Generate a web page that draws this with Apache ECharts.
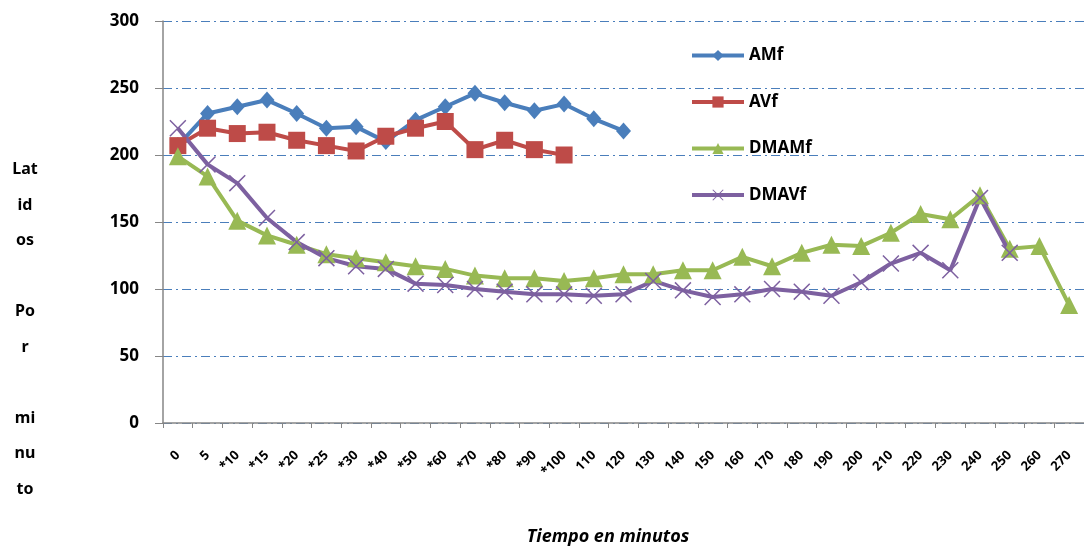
<!DOCTYPE html>
<html>
<head>
<meta charset="utf-8">
<script src="https://cdn.jsdelivr.net/npm/echarts@6/dist/echarts.min.js"></script>
<style>
  html, body { margin: 0; padding: 0; background: #fff; }
  #chart { width: 1084px; height: 550px; }
</style>
</head>
<body>
<div id="chart"></div>
<script>
// Time points (minutes); entries marked * are the sampled intervals
const categories = ['0','5','*10','*15','*20','*25','*30','*40','*50','*60','*70','*80','*90','*100',
  '110','120','130','140','150','160','170','180','190','200','210','220','230','240','250','260','270'];

const amf   = [207, 231, 236, 241, 231, 220, 221, 210, 226, 236, 246, 239, 233, 238, 227, 218];
const avf   = [207, 220, 216, 217, 211, 207, 203, 214, 220, 225, 204, 211, 204, 200];
const dmamf = [199, 184, 151, 140, 133, 126, 123, 120, 117, 115, 110, 108, 108, 106, 108, 111,
  111, 114, 114, 124, 117, 127, 133, 132, 142, 156, 152, 170, 130, 132, 88];
const dmavf = [220, 193, 179, 153, 135, 123, 117, 115, 104, 103, 100, 98, 96, 96, 95, 96,
  106, 99, 94, 96, 100, 98, 95, 105, 119, 127, 114, 168, 127];

const yTicks = { min: 0, max: 300, step: 50 };
const seriesNames = ['AMf', 'AVf', 'DMAMf', 'DMAVf'];
const colors = ['#4A7EBB', '#BE4B48', '#98B954', '#7D60A0'];
const yTitle = 'Lat\nid\nos\n\nPo\nr\n\nmi\nnu\nto';
const xTitle = 'Tiempo en minutos';

const FONT = 'Noto Sans';
const crossPath = 'path://M0,1 L1,0 L8,7 L15,0 L16,1 L9,8 L16,15 L15,16 L8,9 L1,16 L0,15 L7,8 Z';

function lineSeries(name, data, color, symbol, size) {
  return {
    name, type: 'line', data,
    symbol, symbolSize: size,
    showAllSymbol: true,
    lineStyle: { color, width: 4 },
    itemStyle: { color, borderWidth: 0 },
    emphasis: { disabled: true },
    animation: false,
    z: 3
  };
}

const chart = echarts.init(document.getElementById('chart'), null, { renderer: 'canvas' });
chart.setOption({
  backgroundColor: '#ffffff',
  animation: false,
  color: colors,
  grid: { left: 163, right: 0, top: 21, bottom: 127, containLabel: false },
  legend: {
    orient: 'vertical',
    left: 685, top: 42,
    itemWidth: 52, itemHeight: 14, itemGap: 29.5,
    lineStyle: { width: 4 },
    textStyle: { fontFamily: FONT, fontWeight: 'bold', fontSize: 17, color: '#000' },
    data: seriesNames
  },
  xAxis: {
    type: 'category',
    data: categories,
    boundaryGap: true,
    axisLine: { lineStyle: { color: '#868686', width: 1.5 } },
    axisTick: { show: true, length: 5, inside: false, alignWithLabel: false, lineStyle: { color: '#868686' } },
    axisLabel: {
      interval: 0, rotate: 45, margin: 30,
      fontFamily: FONT, fontWeight: 'bold', fontSize: 13, color: '#000'
    },
    splitLine: { show: false }
  },
  yAxis: {
    type: 'value',
    min: yTicks.min, max: yTicks.max, interval: yTicks.step,
    axisLine: { show: true, lineStyle: { color: '#868686', width: 1.5 } },
    axisTick: { show: true, length: 8, lineStyle: { color: '#868686' } },
    axisLabel: { margin: 24, fontFamily: FONT, fontWeight: 'bold', fontSize: 17, color: '#000' },
    splitLine: { show: true, lineStyle: { color: '#4A7EBB', width: 1, type: [9, 4, 2, 4] } }
  },
  graphic: [{
    type: 'text',
    x: 25, y: 152,
    style: {
      text: yTitle,
      fontFamily: FONT, fontWeight: 'bold', fontSize: 16, fill: '#000',
      align: 'center', lineHeight: 35.5
    }
  }, {
    type: 'text',
    x: 608, y: 537,
    style: {
      text: xTitle,
      fontFamily: FONT, fontWeight: 'bold', fontStyle: 'italic', fontSize: 18, fill: '#000',
      align: 'center', verticalAlign: 'middle'
    }
  }],
  series: [
    lineSeries('AMf', amf, colors[0], 'diamond', [15, 17]),
    lineSeries('AVf', avf, colors[1], 'rect', 17),
    lineSeries('DMAMf', dmamf, colors[2], 'triangle', 18),
    lineSeries('DMAVf', dmavf, colors[3], crossPath, 17)
  ]
});
</script>
</body>
</html>
